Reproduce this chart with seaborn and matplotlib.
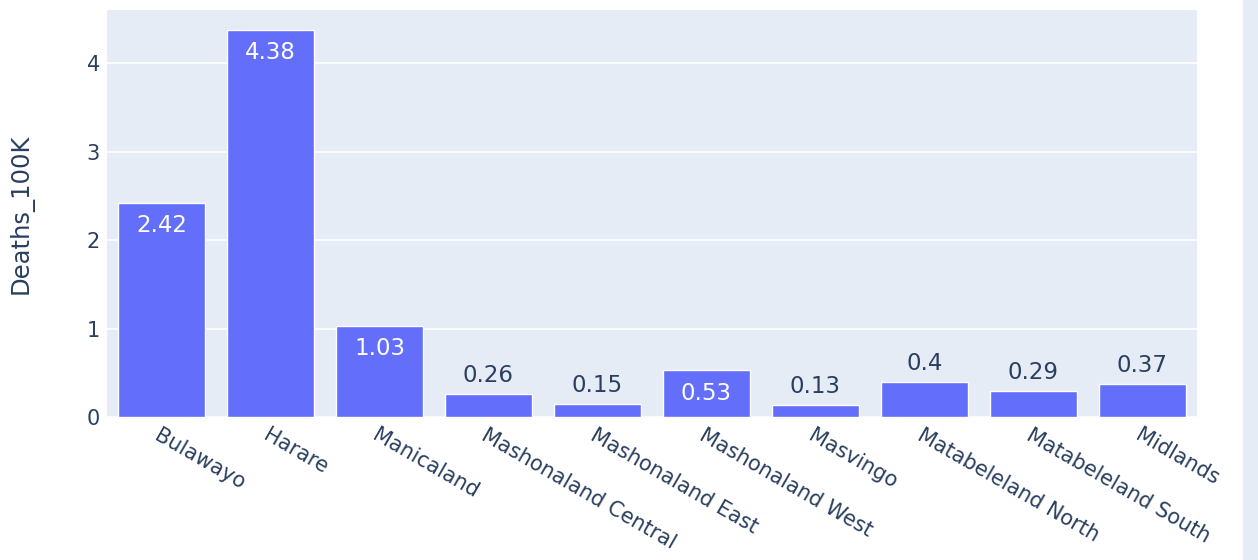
import matplotlib
matplotlib.use('Agg')
import matplotlib.pyplot as plt
import seaborn as sns
import pandas as pd

provinces = ['Bulawayo', 'Harare', 'Manicaland', 'Mashonaland Central',
             'Mashonaland East', 'Mashonaland West', 'Masvingo',
             'Matabeleland North', 'Matabeleland South', 'Midlands']
deaths_100k = [2.42, 4.38, 1.03, 0.26, 0.15, 0.53, 0.13, 0.4, 0.29, 0.37]
y_ticks = [0, 1, 2, 3, 4]

df = pd.DataFrame({'Province': provinces, 'Deaths_100K': deaths_100k})

sns.set_theme(style='darkgrid', rc={'axes.facecolor': '#E5ECF6',
                                    'grid.color': 'white',
                                    'grid.linewidth': 1.2})
plt.rcParams['font.family'] = ['DejaVu Sans']

TXT = '#2a3f5f'
fig = plt.figure(figsize=(12.58, 5.6), dpi=100)
ax = fig.add_axes([0.085, 0.2554, 0.8665, 0.7266])

sns.barplot(data=df, x='Province', y='Deaths_100K', color='#636EFA',
            saturation=1, width=0.8, ax=ax, zorder=2)

ax.set_xlim(-0.5, len(provinces) - 0.5)
ax.set_ylim(0, 4.6)
ax.set_yticks(y_ticks)
ax.grid(axis='x', visible=False)
ax.set_axisbelow(True)
for s in ax.spines.values():
    s.set_visible(False)

# value labels, plotly "auto" style: inside for tall bars, outside for short ones
for i, v in enumerate(deaths_100k):
    lab = f'{v:g}'
    if v > 0.45:
        ax.text(i, v - 0.13, lab, ha='center', va='top', color='white',
                fontsize=16.5)
    else:
        ax.text(i, v + 0.08, lab, ha='center', va='bottom', color=TXT,
                fontsize=16.5)

ax.set_xlabel('')
ax.set_ylabel('Deaths_100K', fontsize=17.5, color=TXT, labelpad=38)
ax.tick_params(axis='y', length=0, labelsize=15, labelcolor=TXT, pad=5)
ax.tick_params(axis='x', length=0, labelsize=15, labelcolor=TXT, pad=6)
plt.setp(ax.get_xticklabels(), rotation=-30, ha='left', va='top',
         rotation_mode='anchor')

# faint strip on the right edge of the screenshot
fig.patches.append(plt.Rectangle((0.988, 0), 0.012, 1, transform=fig.transFigure,
                                 color='#E5ECF6', zorder=0))

fig.savefig('out.png', dpi=100)
